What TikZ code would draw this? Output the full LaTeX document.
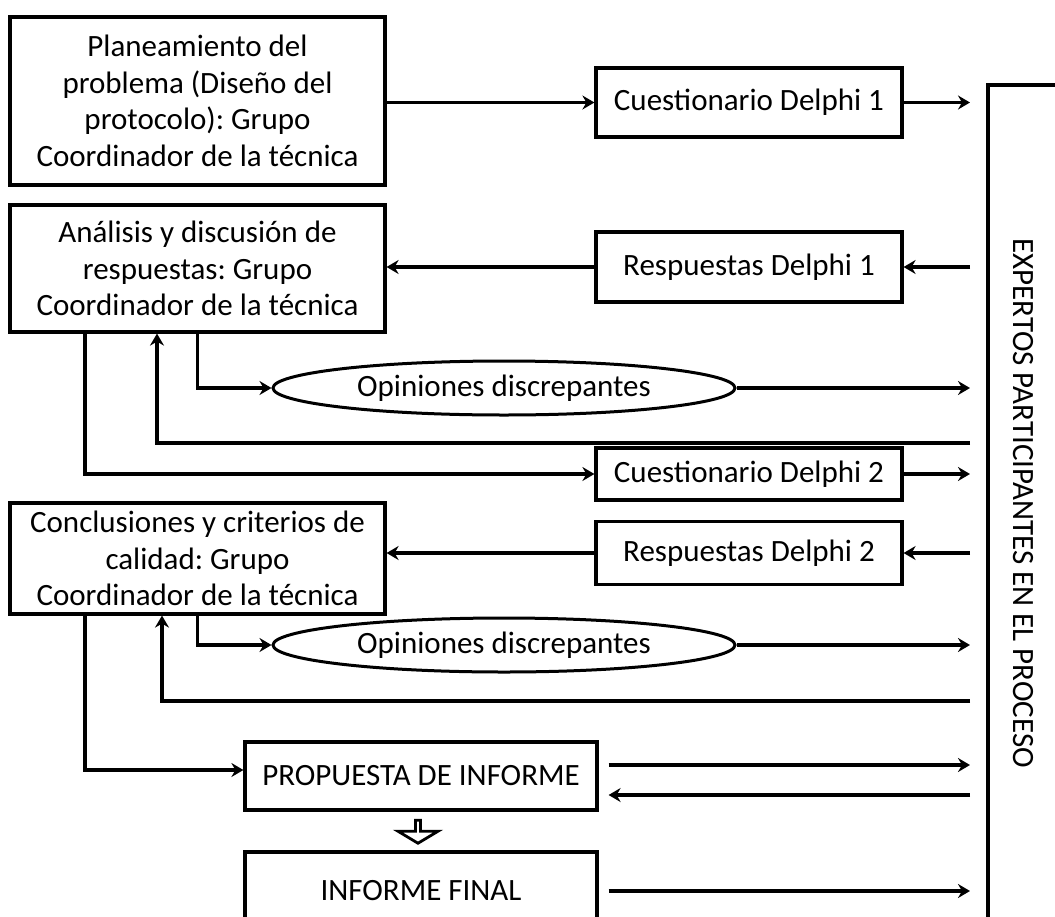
\documentclass[tikz,border=0pt]{standalone}
\usepackage{fontspec}
\setmainfont{Carlito}
\usetikzlibrary{arrows.meta,shapes.geometric,shapes.arrows}

\tikzset{
  box/.style={draw,line width=1.6pt,align=center,inner sep=0pt,
    font=\fontsize{15.5}{18.3}\selectfont},
  oval/.style={draw,ellipse,line width=1.5pt,inner sep=0pt,
    minimum width=231pt,minimum height=27pt,font=\fontsize{15.5}{18}\selectfont},
  arr/.style={line width=1.8pt,-{Stealth[length=6pt,width=7pt,inset=2pt]}},
  ln/.style={line width=1.8pt}
}

\begin{document}
\frenchspacing
\begin{tikzpicture}[x=0.5pt,y=-0.5pt]
    \useasboundingbox (0,0) rectangle (1055,916);
    \clip (0,0) rectangle (1055,916);
    % left column: coordinating group
    \node[box,minimum width=187.5pt,minimum height=84pt] (plan) at (197.5,101)
        {Planeamiento del\\problema (Diseño del\\protocolo): Grupo\\Coordinador de la técnica};
    \node[box,minimum width=187.5pt,minimum height=63.5pt] (anal) at (197.5,268.5)
        {Análisis y discusión de\\respuestas: Grupo\\Coordinador de la técnica};
    \node[box,minimum width=187.5pt,minimum height=55.5pt] (concl) at (197.5,558.5)
        {Conclusiones y criterios de\\calidad: Grupo\\Coordinador de la técnica};
    % middle column: questionnaires and answers
    \node[box,minimum width=153pt,minimum height=34.5pt] (cuest1) at (749,102.5) {Cuestionario Delphi 1};
    \node[box,minimum width=153pt,minimum height=35pt] (resp1) at (749,267) {Respuestas Delphi 1};
    \node[oval] (opin1) at (504,388) {Opiniones discrepantes};
    \node[box,minimum width=153pt,minimum height=26pt] (cuest2) at (749,474) {Cuestionario Delphi 2};
    \node[box,minimum width=153pt,minimum height=31.5pt] (resp2) at (749,553) {Respuestas Delphi 2};
    \node[oval] (opin2) at (504,645) {Opiniones discrepantes};
    \node[box,minimum width=176pt,minimum height=34pt] (prop) at (421,776) {PROPUESTA DE INFORME};
    \node[box,minimum width=176pt,minimum height=39pt] (final) at (421,891) {INFORME FINAL};
    \node[draw,fill=white,single arrow,rotate=-90,line width=1.4pt,inner sep=0pt,
        minimum height=11.5pt,minimum width=20pt,single arrow head extend=5pt,
        single arrow tip angle=118] (flecha) at (418,831) {};
    % experts (right side)
    \draw[line width=1.6pt] (988,1000) |- (1100,85);
    \node[rotate=-90,font=\fontsize{15.5}{18}\selectfont] (expertos) at (1023,503)
        {EXPERTOS PARTICIPANTES EN EL PROCESO};
    \coordinate (tip) at (970,0);
    \coordinate (fb1) at (970,443);
    \coordinate (fb2) at (970,701);
    \coordinate (xa) at (85,0);
    \coordinate (xb) at (157,0);
    \coordinate (xc) at (162,0);
    % round 1
    \draw[arr] (plan.east |- cuest1.west) -- (cuest1.west);
    \draw[arr] (cuest1.east) -- (cuest1.east -| tip);
    \draw[arr] (resp1.east -| tip) -- (resp1.east);
    \draw[arr] (resp1.west) -- (resp1.west -| anal.east);
    \draw[arr] (anal.south) |- (opin1.west);
    \draw[arr] (opin1.east) -- (opin1.east -| tip);
    \draw[arr] (fb1) -| (anal.south -| xb);
    % round 2
    \draw[arr] (anal.south -| xa) |- (cuest2.west);
    \draw[arr] (cuest2.east) -- (cuest2.east -| tip);
    \draw[arr] (resp2.east -| tip) -- (resp2.east);
    \draw[arr] (resp2.west) -- (resp2.west -| concl.east);
    \draw[arr] (concl.south) |- (opin2.west);
    \draw[arr] (opin2.east) -- (opin2.east -| tip);
    \draw[arr] (fb2) -| (concl.south -| xc);
    % report
    \draw[arr] (concl.south -| xa) |- ([yshift=3pt]prop.west);
    \draw[arr] ([xshift=5pt,yshift=5.5pt]prop.east) -- ([yshift=5.5pt]prop.east -| tip);
    \draw[arr] ([yshift=-9.5pt]prop.east -| tip) -- ([xshift=5pt,yshift=-9.5pt]prop.east);
    \draw[arr] ([xshift=5pt]final.east) -- (final.east -| tip);
\end{tikzpicture}
\end{document}
